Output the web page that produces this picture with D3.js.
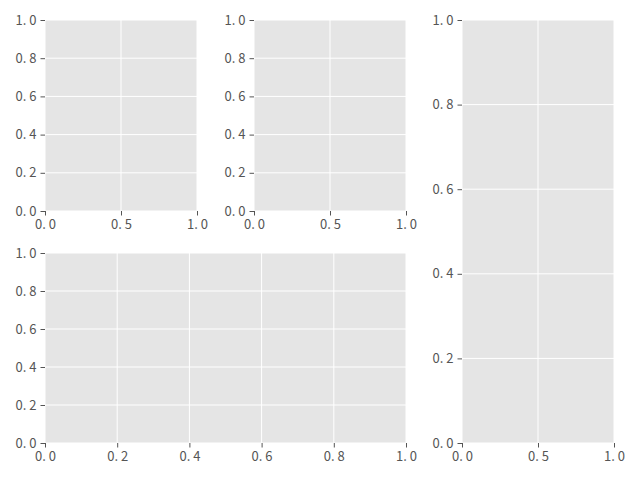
<!DOCTYPE html>
<html><head><meta charset="utf-8">
<script src="https://cdn.jsdelivr.net/npm/d3@7"></script>
<style>body{margin:0;background:#fff}</style>
</head><body><div id="container"></div>
<script>
const panels = [
  {name: 'a', x0: 45, x1: 197, y0: 20, y1: 211, xt: [0, 0.5, 1], yt: [0, 0.2, 0.4, 0.6, 0.8, 1]},
  {name: 'b', x0: 254, x1: 406, y0: 20, y1: 211, xt: [0, 0.5, 1], yt: [0, 0.2, 0.4, 0.6, 0.8, 1]},
  {name: 'c', x0: 45, x1: 406, y0: 253, y1: 443, xt: [0, 0.2, 0.4, 0.6, 0.8, 1], yt: [0, 0.2, 0.4, 0.6, 0.8, 1]},
  {name: 'd', x0: 462, x1: 614, y0: 20, y1: 443, xt: [0, 0.5, 1], yt: [0, 0.2, 0.4, 0.6, 0.8, 1]}
];

const svg = d3.select('#container').append('svg').attr('width', 640).attr('height', 480);

panels.forEach(p => {
  const x = d3.scaleLinear().domain([0, 1]).range([p.x0, p.x1]);
  const y = d3.scaleLinear().domain([0, 1]).range([p.y1, p.y0]);
  const g = svg.append('g');
  g.append('rect').attr('x', p.x0).attr('y', p.y0)
    .attr('width', p.x1 - p.x0).attr('height', p.y1 - p.y0).attr('fill', '#e5e5e5');
  g.selectAll('.gx').data(p.xt).enter().append('line')
    .attr('x1', d => x(d)).attr('x2', d => x(d)).attr('y1', p.y0).attr('y2', p.y1)
    .attr('stroke', '#fff').attr('stroke-width', 1);
  g.selectAll('.gy').data(p.yt).enter().append('line')
    .attr('y1', d => y(d)).attr('y2', d => y(d)).attr('x1', p.x0).attr('x2', p.x1)
    .attr('stroke', '#fff').attr('stroke-width', 1);

  const xa = g.append('g').attr('transform', `translate(0,${p.y1})`)
    .call(d3.axisBottom(x).tickValues(p.xt).tickFormat(d => d3.format('.1f')(d).replace('.', '. ')).tickSize(4.5).tickPadding(4));
  const ya = g.append('g').attr('transform', `translate(${p.x0},0)`)
    .call(d3.axisLeft(y).tickValues(p.yt).tickFormat(d => d3.format('.1f')(d).replace('.', '. ')).tickSize(4.5).tickPadding(4));
  [xa, ya].forEach(a => {
    a.select('.domain').remove();
    a.selectAll('line').attr('stroke', '#555');
    a.selectAll('text').attr('fill', '#555').style('white-space', 'pre')
      .style('font-family', '"Noto Sans CJK SC"').style('font-size', '13px');
  });
});
</script></body></html>
